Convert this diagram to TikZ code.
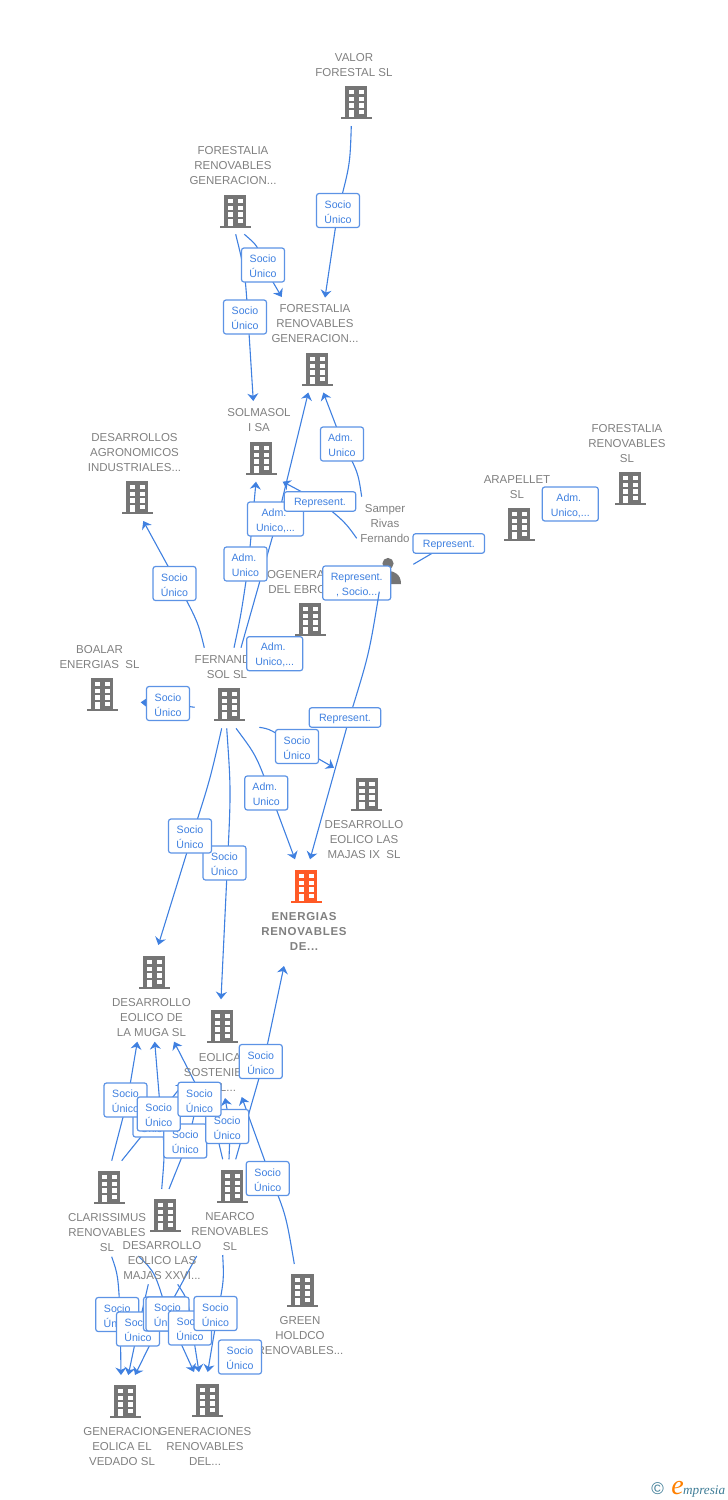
\documentclass[tikz,border=0pt]{standalone}
\usepackage{fontspec}
\setmainfont{Liberation Sans}
\newfontfamily\logofont{Liberation Serif}
\usepackage{xcolor}
\usetikzlibrary{
	arrows.meta,
	calc
}
\definecolor{iconcol}{HTML}{757575}
\definecolor{namecol}{HTML}{808080}
\definecolor{linkcol}{HTML}{3F80E0}
\definecolor{hotcol}{HTML}{FF5A26}
\definecolor{logocol}{HTML}{3E7C96}
\pgfdeclarelayer{links}
\pgfsetlayers{links,main}
\tikzset{
	company/.style={text=namecol,align=center,inner sep=0pt,
		font=\fontsize{11.5}{15}\selectfont},
	boxbase/.style={draw=linkcol!85!white,line width=1.2pt,fill=white,rounded corners=2.5pt,
		text=linkcol,align=center,inner sep=0pt,font=\fontsize{10.6}{15}\selectfont},
	socio/.style={boxbase,minimum width=43pt,minimum height=34pt},
	adm/.style={boxbase,minimum width=43pt,minimum height=34pt},
	admmore/.style={boxbase,minimum width=56pt,minimum height=34pt},
	repr/.style={boxbase,minimum width=71.5pt,minimum height=19.5pt},
	reprmore/.style={boxbase,minimum width=68pt,minimum height=34pt},
	link/.style={draw=linkcol,line width=1.1pt,-{Stealth[length=7.5pt,width=11pt,inset=2.4pt]}},
	plainlink/.style={draw=linkcol,line width=1.1pt}
}
\newcommand{\bldg}[3][iconcol]{
	\begin{scope}[shift={(#2,#3)}]
		\fill[#1] (-11.2,0) rectangle (11.2,32);
		\fill[#1] (-15.5,31.4) rectangle (15.5,33.4);
		\foreach \rowtop in {4,10.7,17.3} {
			\fill[white] (-7.5,\rowtop) rectangle (-2.2,\rowtop+4.4);
			\fill[white] (2.5,\rowtop) rectangle (7.8,\rowtop+4.4);
		}
		\fill[white] (2.5,24) rectangle (7.8,28);
		\fill[white] (-7.5,24) rectangle (-2.2,31.4);
	\end{scope}
}
\newcommand{\lift}{\rule{0pt}{10.5pt}}
\newcommand{\SU}{\lift Socio\\Único}
\newcommand{\AU}{\lift Adm.\kern3pt\\Unico}
\newcommand{\AM}{\lift Adm.\kern3pt\\Unico,...}
\newcommand{\RP}{\lift Represent.}
\begin{document}
\begin{tikzpicture}[x=1pt,y=-1pt]
	\useasboundingbox (0,0) rectangle (728,1500);

	% companies
	\bldg{356}{86}
	\bldg{235}{195}
	\bldg{317}{353}
	\bldg{261}{442}
	\bldg{137}{481}
	\bldg{310}{603}
	\bldg{229}{688}
	\bldg{102}{678}
	\bldg{519}{508}
	\bldg{630}{472}
	\bldg{366.7}{778}
	\bldg[hotcol]{306}{870}
	\bldg{154}{956}
	\bldg{222}{1010}
	\bldg{109}{1171}
	\bldg{165}{1199}
	\bldg{232}{1170}
	\bldg{302.5}{1274}
	\bldg{125}{1385}
	\bldg{207.6}{1384}

	% person
	\fill[iconcol] (388,563.5) circle (5.6);
	\fill[iconcol] (375,584) .. controls (375,574) and (382,571) .. (388,571)
		.. controls (394,571) and (401,574) .. (401,584) -- cycle;

	\node[company] at (354,65.5) (valor) {VALOR\\FORESTAL SL};
	\node[company] at (233,166) (forest-a) {FORESTALIA\\RENOVABLES\\GENERACION...};
	\node[company] at (315,324) (forest-b) {FORESTALIA\\RENOVABLES\\GENERACION...};
	\node[company] at (259,420.5) (solmasol) {SOLMASOL\\I SA};
	\node[company] at (134.5,453) (agro) {DESARROLLOS\\AGRONOMICOS\\INDUSTRIALES...};
	\node[company] at (385,524) (samper) {Samper\\Rivas\\Fernando};
	\node[company] at (517,487.5) (arapellet) {ARAPELLET\\SL};
	\node[company] at (627,444) (forest-c) {FORESTALIA\\RENOVABLES\\SL};
	\node[company] at (306,582.5) (cogen) {COGENERACION\\DEL EBRO SL};
	\node[company] at (227,667.5) (fernando) {FERNANDO\\SOL SL};
	\node[company] at (99.5,657.5) (boalar) {BOALAR\\ENERGIAS\ \ SL};
	\node[company] at (364,840) (majas-ix) {DESARROLLO\\EOLICO LAS\\MAJAS IX\ \ SL};
	\node[company,font=\fontsize{11.5}{15}\selectfont\bfseries\addfontfeature{LetterSpace=6}] at (304,931) (energias) {ENERGIAS\\RENOVABLES\\DE...};
	\node[company] at (151.5,1018) (muga) {DESARROLLO\\EOLICO DE\\LA MUGA SL};
	\node[company] at (220,1072) (eolica) {EOLICA\\SOSTENIBLE\\DEL...};
	\node[company] at (107,1233) (clarissimus) {CLARISSIMUS\\RENOVABLES\\SL};
	\node[company] at (230,1232) (nearco) {NEARCO\\RENOVABLES\\SL};
	\node[company] at (162,1261) (majas-xxvi) {DESARROLLO\\EOLICO LAS\\MAJAS XXVI...};
	\node[company] at (300,1336) (green) {GREEN\\HOLDCO\\RENOVABLES...};
	\node[company] at (122,1447) (vedado) {GENERACION\\EOLICA EL\\VEDADO SL};
	\node[company] at (205,1446) (generaciones) {GENERACIONES\\RENOVABLES\\DEL...};

	% labels
	\node[socio] at (338,210.5) (su-valor) {\SU};
	\node[socio] at (263,265) (su-forest) {\SU};
	\node[socio] at (245,317) (su-solmasol) {\SU};
	\node[adm] at (342,444) (ad-samper) {\AU};
	\node[admmore] at (275.5,519) (am-forest) {\AM};
	\node[repr] at (320,501.5) (rp-samper) {\RP};
	\node[adm] at (245.5,564) (ad-solmasol) {\AU};
	\node[socio] at (174.5,583.5) (su-agro) {\SU};
	\node[admmore] at (274.7,653.7) (am-cogen) {\AM};
	\node[socio] at (168,703.5) (su-boalar) {\SU};
	\node[socio] at (297,746.5) (su-majas) {\SU};
	\node[adm] at (266.3,793) (ad-energias) {\AU};
	\node[socio] at (224.5,863) (su-eolica) {\SU};
	\node[socio] at (190,836) (su-muga) {\SU};
	\node[repr] at (448.8,543.5) (rp-arapellet) {\RP};
	\node[admmore] at (570.3,504) (am-arapellet) {\AM};
	\node[socio] at (260.8,1061.5) (su-nearco) {\SU};
	\node[socio] at (154.5,1120) (su-cl-eol) {\SU};
	\node[socio] at (125.5,1100) (su-cl-mug) {\SU};
	\node[socio] at (185.3,1141) (su-xx-eol) {\SU};
	\node[socio] at (158.7,1114) (su-xx-mug) {\SU};
	\node[socio] at (227.2,1126.5) (su-ne-eol) {\SU};
	\node[socio] at (199.5,1099.3) (su-ne-mug) {\SU};
	\node[socio] at (267.7,1178.5) (su-green) {\SU};
	\node[socio] at (117.2,1314.5) (su-cl-ved) {\SU};
	\node[socio] at (138,1329) (su-xx-ved) {\SU};
	\node[socio] at (165,1314) (su-ne-ved) {\SU};
	\node[socio] at (167.5,1314) (su-cl-gen) {\SU};
	\node[socio] at (190,1328) (su-xx-gen) {\SU};
	\node[socio] at (215.5,1313.5) (su-ne-gen) {\SU};
	\node[socio] at (240,1357) (su-green-gen) {\SU};
	\node[reprmore] at (356.7,583) (rs-energias) {\lift Represent.\\, Socio...};

	% free ends
	\coordinate (a1) at (351.3,126); \coordinate (b1) at (325,297.5);
	\coordinate (a2) at (244.3,234.3); \coordinate (b2) at (281.7,297);
	\coordinate (a3) at (235.7,234.3); \coordinate (b3) at (253.3,401);
	\coordinate (a4) at (361.7,496.7); \coordinate (b4) at (323.3,392.5);
	\coordinate (a5) at (241,647.7); \coordinate (b5) at (308.3,392.5);
	\coordinate (a6) at (234,647.7); \coordinate (b6) at (256,481.7);
	\coordinate (a7) at (356.7,538.3); \coordinate (b7) at (282.7,481.7);
	\coordinate (a8) at (204.3,647.7); \coordinate (b8) at (143.3,521);
	\coordinate (a9) at (194.7,707.3); \coordinate (b9) at (140.7,702.3);
	\coordinate (a10) at (413.3,564.3);
	\coordinate (a11) at (379.3,591.7); \coordinate (b11) at (310,859.3);
	\coordinate (a12) at (259.3,727.3); \coordinate (b12) at (334,767.7);
	\coordinate (a13) at (236,728.3); \coordinate (b13) at (295,859.3);
	\coordinate (a14) at (221.7,728.3); \coordinate (b14) at (158.3,945);
	\coordinate (a15) at (226.7,728.3); \coordinate (b15) at (221,999.3);
	\coordinate (a16) at (235.7,1159.3); \coordinate (b16) at (284,966);
	\coordinate (a17) at (222.7,1159.3); \coordinate (b17) at (174,1041.7);
	\coordinate (a18) at (229,1159.3); \coordinate (b18) at (225,1098);
	\coordinate (a19) at (294.3,1264); \coordinate (b19) at (241.7,1097);
	\coordinate (a20) at (111.7,1160.7); \coordinate (b20) at (137.3,1041.7);
	\coordinate (a21) at (121.7,1160.7); \coordinate (b21) at (184,1083);
	\coordinate (a22) at (161.7,1189); \coordinate (b22) at (154.7,1041.7);
	\coordinate (a23) at (169,1189); \coordinate (b23) at (198,1098);
	\coordinate (a24) at (111.7,1256.7); \coordinate (b24) at (121,1375);
	\coordinate (a25) at (148.3,1284.3); \coordinate (b25) at (128.3,1375);
	\coordinate (a26) at (196.7,1256); \coordinate (b26) at (135,1375);
	\coordinate (a27) at (138.3,1256); \coordinate (b27) at (194,1372);
	\coordinate (a28) at (177.7,1284.3); \coordinate (b28) at (199,1372);
	\coordinate (a29) at (222.7,1255); \coordinate (b29) at (207.7,1372);

	% connectors
	\begin{pgfonlayer}{links}
		\draw[link] (a1) .. controls (350,165) .. (su-valor.center) -- (b1);
		\draw[link] (a2) .. controls (258,246) .. (su-forest.center) -- (b2);
		\draw[link] (a3) .. controls (245,272) .. ([xshift=3pt]su-solmasol.center) -- (b3);
		\draw[link] (a4) .. controls (358,472) .. ([xshift=1pt]ad-samper.center) -- (b4);
		\draw[link] (a5) -- ([xshift=2pt]am-forest.center) -- (b5);
		\draw[link] (a6) .. controls (241,615) .. ([xshift=3pt]ad-solmasol.center) -- (b6);
		\draw[link] (a7) .. controls (345,522) .. (rp-samper.center) -- (b7);
		\draw[link] (a8) .. controls (198,622) .. ([xshift=3pt]su-agro.center) -- (b8);
		\draw[link] (a9) -- (su-boalar.center) -- (b9);
		\draw[plainlink] (a10) -- (rp-arapellet.center);
		\draw[link] (a12) .. controls (270,729) .. (su-majas.center) -- (b12);
		\draw[link] (a13) .. controls (256,755) .. ([xshift=4pt]ad-energias.center) -- (b13);
		\draw[link] (a14) .. controls (210,780) .. ([xshift=2pt]su-muga.center) -- (b14);
		\draw[link] (a15) .. controls (231,790) .. ([xshift=3pt]su-eolica.center) -- (b15);
		\draw[link] (a16) -- ([xshift=3pt]su-nearco.center) -- (b16);
		\draw[link] (a17) .. controls (213,1118) .. ([xshift=4pt]su-ne-mug.center) -- (b17);
		\draw[link] (a18) -- ([xshift=3pt]su-ne-eol.center) -- (b18);
		\draw[link] (a19) .. controls (286,1215) .. ([xshift=3.5pt]su-green.center) -- (b19);
		\draw[link] (a20) -- ([xshift=2pt]su-cl-mug.center) -- (b20);
		\draw[link] (a21) -- (su-cl-eol.center) -- (b21);
		\draw[link] (a22) .. controls (165,1150) .. ([xshift=2pt]su-xx-mug.center) -- (b22);
		\draw[link] (a23) -- ([xshift=3pt]su-xx-eol.center) -- (b23);
		\draw[link] (a24) .. controls (118,1275) .. ([xshift=3pt]su-cl-ved.center) -- (b24);
		\draw[link] (a25) -- (su-xx-ved.center) -- (b25);
		\draw[link] (a26) -- (su-ne-ved.center) -- (b26);
		\draw[link] (a27) .. controls (155,1272) .. (su-cl-gen.center) -- (b27);
		\draw[link] (a28) .. controls (188,1300) .. ([xshift=2pt]su-xx-gen.center) -- (b28);
		\draw[link] (a29) .. controls (224,1280) .. ([xshift=2pt]su-ne-gen.center) -- (b29);
	\end{pgfonlayer}

	\coordinate (rp-mid) at (349.5,717.5);
	\draw[link] (a11) .. controls (369,654.6) .. (rp-mid) -- (b11);
	\node[repr] at (345,717.5) (rp-energias) {\RP};

	% logo
	\node[text=logocol,inner sep=0pt,font=\fontsize{17}{17}\selectfont] at (657.7,1489) (logo-c) {©};
	\node[text=orange,inner sep=0pt,anchor=base east,font=\logofont\itshape\fontsize{28}{28}\selectfont] at (684,1494) (logo-e) {e};
	\node[text=logocol,inner sep=0pt,anchor=base west,font=\logofont\itshape\fontsize{13.2}{14}\selectfont] at (683,1494) (logo-m) {mpresia};
\end{tikzpicture}
\end{document}
